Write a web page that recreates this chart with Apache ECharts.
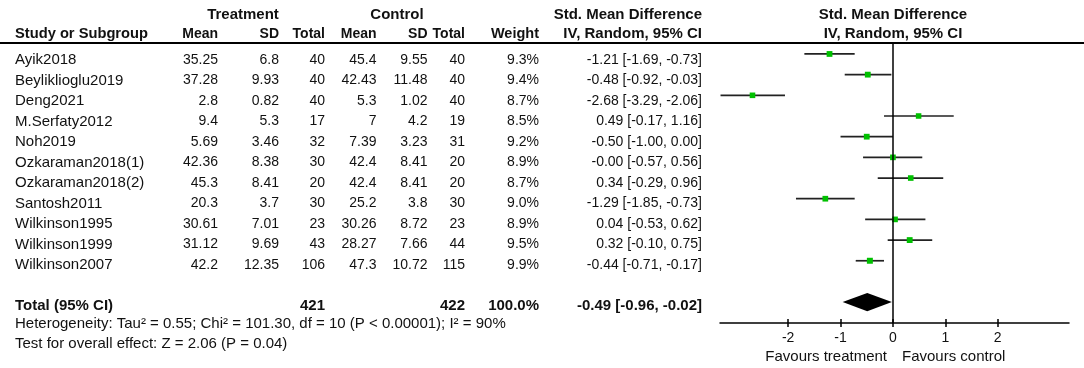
<!DOCTYPE html>
<html>
<head>
<meta charset="utf-8">
<title>Forest plot</title>
<script src="https://cdn.jsdelivr.net/npm/echarts@6/dist/echarts.min.js"></script>
<style>
  html, body { margin: 0; padding: 0; background: #fff; }
  #chart { width: 1084px; height: 368px; }
</style>
</head>
<body>
<div id="chart"></div>
<script>
// studies and their numbers
const studies = ['Ayik2018', 'Beyliklioglu2019', 'Deng2021', 'M.Serfaty2012', 'Noh2019', 'Ozkaraman2018(1)',
  'Ozkaraman2018(2)', 'Santosh2011', 'Wilkinson1995', 'Wilkinson1999', 'Wilkinson2007'];
const trtMean = [35.25, 37.28, 2.8, 9.4, 5.69, 42.36, 45.3, 20.3, 30.61, 31.12, 42.2];
const trtSD = [6.8, 9.93, 0.82, 5.3, 3.46, 8.38, 8.41, 3.7, 7.01, 9.69, 12.35];
const trtN = [40, 40, 40, 17, 32, 30, 20, 30, 23, 43, 106];
const ctlMean = [45.4, 42.43, 5.3, 7, 7.39, 42.4, 42.4, 25.2, 30.26, 28.27, 47.3];
const ctlSD = [9.55, 11.48, 1.02, 4.2, 3.23, 8.41, 8.41, 3.8, 8.72, 7.66, 10.72];
const ctlN = [40, 40, 40, 19, 31, 20, 20, 30, 23, 44, 115];
const weight = [9.3, 9.4, 8.7, 8.5, 9.2, 8.9, 8.7, 9.0, 8.9, 9.5, 9.9];
const smd = [-1.21, -0.48, -2.68, 0.49, -0.50, -0.00, 0.34, -1.29, 0.04, 0.32, -0.44];
const ciLow = [-1.69, -0.92, -3.29, -0.17, -1.00, -0.57, -0.29, -1.85, -0.53, -0.10, -0.71];
const ciHigh = [-0.73, -0.03, -2.06, 1.16, 0.00, 0.56, 0.96, -0.73, 0.62, 0.75, -0.17];

// pooled result
const totalTrtN = 421;
const totalCtlN = 422;
const totalWeight = 100.0;
const totalSmd = -0.49;
const totalLow = -0.96;
const totalHigh = -0.02;

const xTicks = [-2, -1, 0, 1, 2];

const FONT = '"Liberation Sans", Arial, sans-serif';
const INK = '#111';
const TOTAL_ROW = 12;

function fmt2(v) {
  const neg = v < 0 || Object.is(v, -0);
  return (neg ? '-' : '') + Math.abs(v).toFixed(2);
}
function ciText(e, lo, hi) {
  return fmt2(e) + ' [' + fmt2(lo) + ', ' + fmt2(hi) + ']';
}

// right edges of the table columns (pixels)
const COL = { study: 15, tMean: 218, tSD: 279, tN: 325, cMean: 376.5, cSD: 427.5, cN: 465, w: 539, ci: 702 };

// size: 14 for numbers, 15 for words / bold
function txt(x, y, text, align, bold, size) {
  size = size || (bold ? 15 : 14);
  return {
    type: 'text', x: x, y: y,
    style: {
      text: text, align: align, textAlign: align, verticalAlign: 'middle', textVerticalAlign: 'middle',
      font: (bold ? 'bold ' : '') + size + 'px ' + FONT, fill: INK
    }
  };
}

const chart = echarts.init(document.getElementById('chart'));

const option = {
  animation: false,
  backgroundColor: '#fff',
  grid: [
    { left: 720, right: 15, top: 43, bottom: 45 },
    { left: 0, right: 0, top: 0, bottom: 0 }
  ],
  xAxis: [
    {
      gridIndex: 0, type: 'value', min: -3.3, max: 3.36,
      axisLine: { show: true, onZero: false, lineStyle: { color: '#000', width: 1.5 } },
      axisTick: { show: true, customValues: xTicks, length: 4, lineStyle: { color: '#000', width: 1.5 } },
      axisLabel: {
        customValues: xTicks, margin: 8, color: INK, fontSize: 14, fontFamily: FONT,
        formatter: v => (v < 0 ? '-' + Math.abs(v) : String(v))
      },
      splitLine: { show: false }
    },
    {
      gridIndex: 0, type: 'value', min: -3.3, max: 3.36, position: 'bottom',
      axisLine: { show: false, onZero: false },
      axisTick: { show: true, inside: true, customValues: xTicks, length: 4, lineStyle: { color: '#000', width: 1.5 } },
      axisLabel: { show: false },
      splitLine: { show: false }
    },
    { gridIndex: 1, type: 'value', min: 0, max: 1084, show: false }
  ],
  yAxis: [
    { gridIndex: 0, type: 'value', inverse: true, min: -0.53, max: 13.01, show: false },
    { gridIndex: 1, type: 'value', inverse: true, min: -60 / 20.5, max: 308 / 20.5, show: false }
  ],
  graphic: [
    // header rule
    { type: 'line', shape: { x1: 0, y1: 43, x2: 1084, y2: 43 }, style: { stroke: '#000', lineWidth: 2 } },
    txt(243, 15, 'Treatment', 'center', true),
    txt(397, 15, 'Control', 'center', true),
    txt(COL.ci, 15, 'Std. Mean Difference', 'right', true),
    txt(893, 15, 'Std. Mean Difference', 'center', true),
    txt(COL.study, 34, 'Study or Subgroup', 'left', true, 14.7),
    txt(COL.tMean, 34, 'Mean', 'right', true, 14),
    txt(COL.tSD, 34, 'SD', 'right', true, 14),
    txt(COL.tN, 34, 'Total', 'right', true, 14),
    txt(COL.cMean, 34, 'Mean', 'right', true, 14),
    txt(COL.cSD, 34, 'SD', 'right', true, 14),
    txt(COL.cN, 34, 'Total', 'right', true, 14),
    txt(COL.w, 34, 'Weight', 'right', true, 14.5),
    txt(COL.ci, 34, 'IV, Random, 95% CI', 'right', true),
    txt(893, 34, 'IV, Random, 95% CI', 'center', true),
    txt(COL.study, 324, 'Heterogeneity: Tau\u00b2 = 0.55; Chi\u00b2 = 101.30, df = 10 (P < 0.00001); I\u00b2 = 90%', 'left', false, 15),
    txt(COL.study, 344, 'Test for overall effect: Z = 2.06 (P = 0.04)', 'left', false, 15),
    txt(887, 357, 'Favours treatment', 'right', false, 15),
    txt(902, 357, 'Favours control', 'left', false, 15)
  ],
  series: [
    {
      // study CIs and weighted squares
      type: 'custom',
      xAxisIndex: 0, yAxisIndex: 0,
      data: studies.map((s, i) => [i, ciLow[i], ciHigh[i], smd[i], weight[i]]),
      encode: { y: 0, x: [1, 2, 3] },
      renderItem: function (params, api) {
        const r = api.value(0);
        const a = api.coord([api.value(1), r]);
        const b = api.coord([api.value(2), r]);
        const e = api.coord([api.value(3), r]);
        const s = Math.sqrt(api.value(4)) * 1.9;
        return {
          type: 'group',
          children: [
            { type: 'line', shape: { x1: a[0], y1: a[1], x2: b[0], y2: b[1] }, style: { stroke: '#222', lineWidth: 1.7 } },
            { type: 'rect', shape: { x: e[0] - s / 2, y: e[1] - s / 2, width: s, height: s }, style: { fill: '#00c000' } }
          ]
        };
      },
      markLine: {
        silent: true, symbol: 'none', label: { show: false },
        lineStyle: { color: '#000', width: 1.5, type: 'solid' },
        data: [{ xAxis: 0 }]
      },
      z: 3
    },
    {
      // pooled diamond
      type: 'custom',
      xAxisIndex: 0, yAxisIndex: 0,
      data: [[TOTAL_ROW, totalLow, totalHigh, totalSmd]],
      encode: { y: 0, x: [1, 2, 3] },
      renderItem: function (params, api) {
        const r = api.value(0);
        const h = 0.44;
        const pts = [
          api.coord([api.value(1), r]),
          api.coord([api.value(3), r - h]),
          api.coord([api.value(2), r]),
          api.coord([api.value(3), r + h])
        ];
        return { type: 'polygon', shape: { points: pts }, style: { fill: '#000' } };
      },
      z: 4
    },
    {
      // table rows
      type: 'custom',
      xAxisIndex: 2, yAxisIndex: 1,
      data: studies.map((s, i) => [0, i]),
      encode: { x: 0, y: 1 },
      renderItem: function (params, api) {
        const i = params.dataIndex;
        const y = api.coord([0, api.value(1)])[1];
        return {
          type: 'group',
          children: [
            txt(COL.study, y, studies[i], 'left', false, 15),
            txt(COL.tMean, y, String(trtMean[i]), 'right', false),
            txt(COL.tSD, y, String(trtSD[i]), 'right', false),
            txt(COL.tN, y, String(trtN[i]), 'right', false),
            txt(COL.cMean, y, String(ctlMean[i]), 'right', false),
            txt(COL.cSD, y, String(ctlSD[i]), 'right', false),
            txt(COL.cN, y, String(ctlN[i]), 'right', false),
            txt(COL.w, y, weight[i].toFixed(1) + '%', 'right', false),
            txt(COL.ci, y, ciText(smd[i], ciLow[i], ciHigh[i]), 'right', false)
          ]
        };
      }
    },
    {
      // total row
      type: 'custom',
      xAxisIndex: 2, yAxisIndex: 1,
      data: [[0, TOTAL_ROW]],
      encode: { x: 0, y: 1 },
      renderItem: function (params, api) {
        const y = api.coord([0, api.value(1)])[1];
        return {
          type: 'group',
          children: [
            txt(COL.study, y, 'Total (95% CI)', 'left', true),
            txt(COL.tN, y, String(totalTrtN), 'right', true),
            txt(COL.cN, y, String(totalCtlN), 'right', true),
            txt(COL.w, y, totalWeight.toFixed(1) + '%', 'right', true),
            txt(COL.ci, y, ciText(totalSmd, totalLow, totalHigh), 'right', true)
          ]
        };
      }
    }
  ]
};

chart.setOption(option);
</script>
</body>
</html>
